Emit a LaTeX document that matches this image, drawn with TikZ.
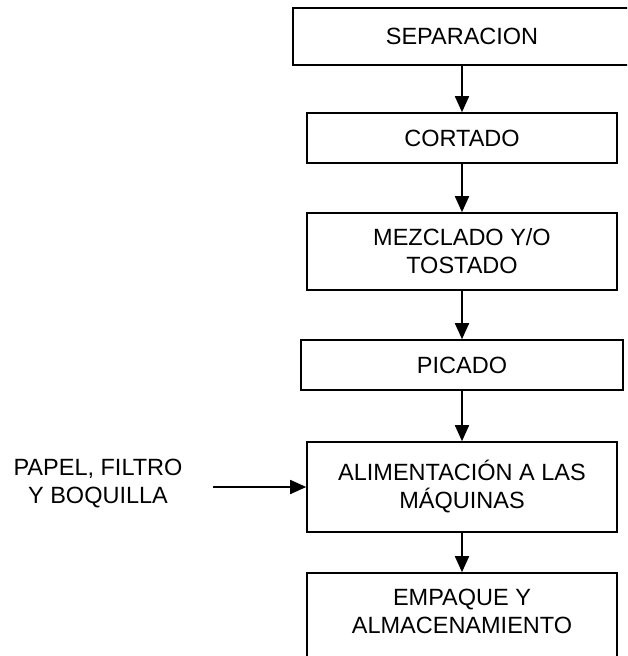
\documentclass[tikz,border=0pt]{standalone}
\usepackage{fontspec}
\setmainfont{Liberation Sans}
\usetikzlibrary{arrows.meta}

\begin{document}
\begin{tikzpicture}[
  x=1pt,y=-1pt,
  font=\fontsize{23.5}{28}\selectfont,
  flow/.style={-{Triangle[length=16pt,width=14pt]},line width=1.7pt},
  box/.style={draw,line width=1.6pt,align=center,inner sep=0pt}
]
\clip (0,0) rectangle (627,656);
\node[box,minimum width=338pt,minimum height=57pt] (sep) at (462,36.5) {SEPARACION};
\node[box,minimum width=310pt,minimum height=50pt] (cort) at (462,138) {CORTADO};
\node[box,minimum width=310pt,minimum height=77pt] (mezc) at (462,251.5)
  {MEZCLADO Y/O\\TOSTADO};
\node[box,minimum width=322pt,minimum height=50pt] (pica) at (462,365) {PICADO};
\node[box,minimum width=310pt,minimum height=90pt] (alim) at (462,487)
  {ALIMENTACIÓN A LAS\\MÁQUINAS};
% the last box runs off the bottom of the page, so its text sits above centre
\node[box,minimum width=310pt,minimum height=95pt] (emp) at (462,620.5) {};
\node[align=center] (emptxt) at (462,611) {EMPAQUE Y\\ALMACENAMIENTO};
\node[align=center] (insumo) at (98,484) {PAPEL, FILTRO\\Y BOQUILLA};
\coordinate (feed) at (213,487);

\draw[flow] (sep) -- (cort);
\draw[flow] (cort) -- (mezc);
\draw[flow] (mezc) -- (pica);
\draw[flow] (pica) -- (alim);
\draw[flow] (alim) -- (emp);
\draw[flow] (feed) -- (alim);
\end{tikzpicture}
\end{document}
